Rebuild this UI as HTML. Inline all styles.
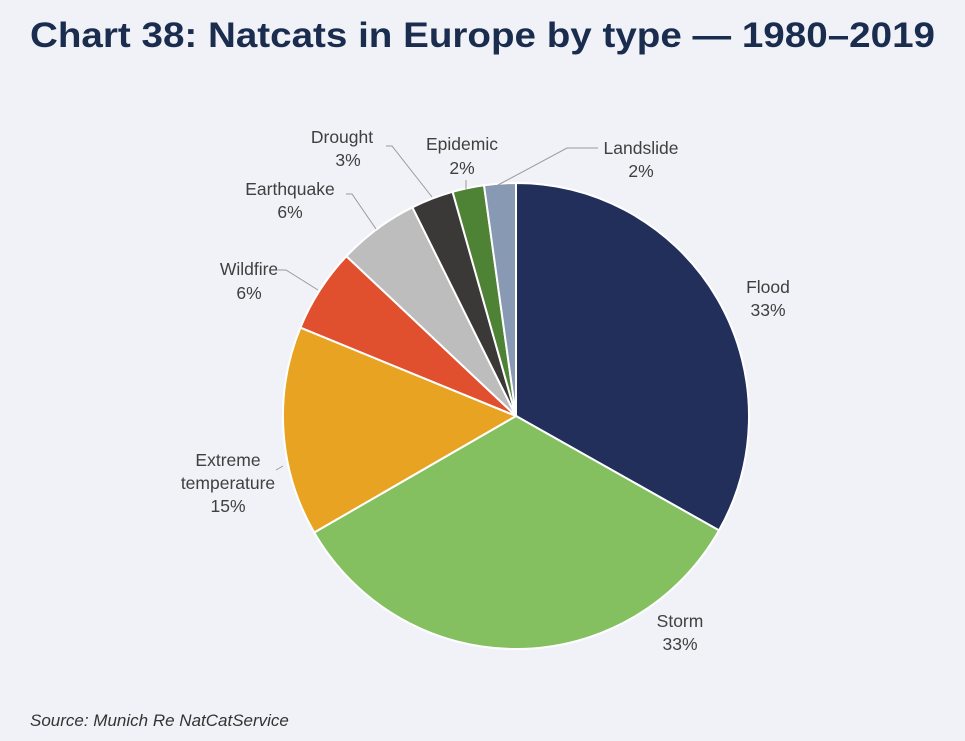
<!DOCTYPE html>
<html><head><meta charset="utf-8"><style>
html,body{margin:0;padding:0;background:#f1f2f8;}
svg{display:block}
text{font-family:"Liberation Sans",sans-serif;}
</style></head><body>
<svg id="s" width="965" height="741" viewBox="0 0 965 741">
<rect width="965" height="741" fill="#f1f2f8"/>
<text x="30" y="47" font-size="35" font-weight="bold" fill="#1b2d4f" textLength="905" lengthAdjust="spacingAndGlyphs">Chart 38: Natcats in Europe by type — 1980–2019</text>
<g id="pie"></g>
<g fill="none" stroke="#9a9a9a" stroke-width="1">
<polyline points="386,146 392,146 432,197"/>
<polyline points="466,180 466,190"/>
<polyline points="598,148 567,148 498,185"/>
<polyline points="346,194 352,194 376,229"/>
<polyline points="278,270 286,270 318,290"/>
<polyline points="276,470 283,466"/>
</g>
<g font-size="17.5" fill="#404040" text-anchor="middle">
<text x="342" y="143">Drought</text><text x="348" y="166">3%</text>
<text x="462" y="150">Epidemic</text><text x="462" y="174">2%</text>
<text x="641" y="154">Landslide</text><text x="641" y="177">2%</text>
<text x="290" y="195">Earthquake</text><text x="290" y="218">6%</text>
<text x="249" y="275">Wildfire</text><text x="249" y="299">6%</text>
<text x="768" y="293">Flood</text><text x="768" y="316">33%</text>
<text x="228" y="466">Extreme</text><text x="228" y="489">temperature</text><text x="228" y="512">15%</text>
<text x="680" y="627">Storm</text><text x="680" y="650">33%</text>
</g>
<text x="30" y="726" font-size="17" font-style="italic" fill="#333">Source: Munich Re NatCatService</text>
</svg>
<script>
var cx=516,cy=416,r=233;
var b=[0,119.4,240,292.3,313.3,333.6,344.2,352.1,360];
var c=["#222f5b","#84bf60","#e8a323","#e04f2e","#bdbdbd","#3b3838","#4e8234","#8899b3"];
function p(a){a=a*Math.PI/180;return (cx+r*Math.sin(a)).toFixed(1)+","+(cy-r*Math.cos(a)).toFixed(1);}
var h="";
for(var i=0;i<8;i++){var l=(b[i+1]-b[i])>180?1:0;
h+='<path d="M'+cx+','+cy+' L'+p(b[i])+' A'+r+','+r+' 0 '+l+' 1 '+p(b[i+1])+' Z" fill="'+c[i]+'" stroke="#fff" stroke-width="2"/>';}
document.getElementById("pie").innerHTML=h;
</script>
</body></html>
